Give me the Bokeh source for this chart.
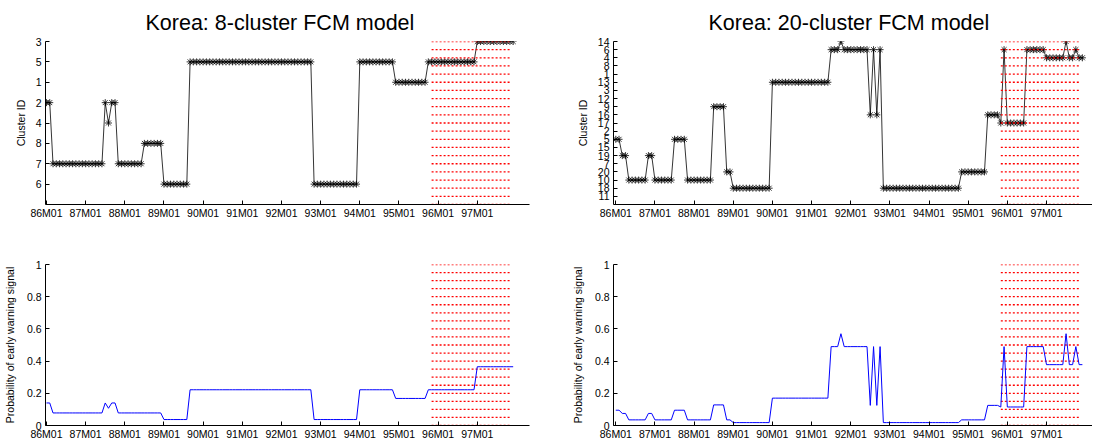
import numpy as np
from bokeh.plotting import figure
from bokeh.layouts import column, row
from bokeh.models import FixedTicker, Range1d
from bokeh.embed import file_html
from bokeh.resources import INLINE

# ---------------- data ----------------
tick_labels = ["86M01", "87M01", "88M01", "89M01", "90M01", "91M01",
               "92M01", "93M01", "94M01", "95M01", "96M01", "97M01"]
tick_months = [0, 12, 24, 36, 48, 60, 72, 84, 96, 108, 120, 132]

# cluster-ID axis order (bottom -> top)
order_8 = [6, 7, 8, 4, 2, 1, 5, 3]
order_20 = [11, 18, 10, 20, 7, 19, 15, 5, 2, 17, 16, 9, 12, 3, 13, 1, 8, 4, 6, 14]

# monthly cluster membership, 86M01 .. 97M12 (one row per year)
clusters_8 = [
    2, 2, 7, 7, 7, 7, 7, 7, 7, 7, 7, 7,
    7, 7, 7, 7, 7, 7, 2, 4, 2, 2, 7, 7,
    7, 7, 7, 7, 7, 7, 8, 8, 8, 8, 8, 8,
    6, 6, 6, 6, 6, 6, 6, 6, 5, 5, 5, 5,
    5, 5, 5, 5, 5, 5, 5, 5, 5, 5, 5, 5,
    5, 5, 5, 5, 5, 5, 5, 5, 5, 5, 5, 5,
    5, 5, 5, 5, 5, 5, 5, 5, 5, 5, 6, 6,
    6, 6, 6, 6, 6, 6, 6, 6, 6, 6, 6, 6,
    5, 5, 5, 5, 5, 5, 5, 5, 5, 5, 5, 1,
    1, 1, 1, 1, 1, 1, 1, 1, 1, 5, 5, 5,
    5, 5, 5, 5, 5, 5, 5, 5, 5, 5, 5, 5,
    3, 3, 3, 3, 3, 3, 3, 3, 3, 3, 3, 3,
]
clusters_20 = [
    5, 5, 19, 19, 10, 10, 10, 10, 10, 10, 19, 19,
    10, 10, 10, 10, 10, 10, 5, 5, 5, 5, 10, 10,
    10, 10, 10, 10, 10, 10, 9, 9, 9, 9, 20, 20,
    18, 18, 18, 18, 18, 18, 18, 18, 18, 18, 18, 18,
    13, 13, 13, 13, 13, 13, 13, 13, 13, 13, 13, 13,
    13, 13, 13, 13, 13, 13, 6, 6, 6, 14, 6, 6,
    6, 6, 6, 6, 6, 6, 16, 6, 16, 6, 18, 18,
    18, 18, 18, 18, 18, 18, 18, 18, 18, 18, 18, 18,
    18, 18, 18, 18, 18, 18, 18, 18, 18, 18, 20, 20,
    20, 20, 20, 20, 20, 20, 16, 16, 16, 16, 17, 6,
    17, 17, 17, 17, 17, 17, 6, 6, 6, 6, 6, 6,
    4, 4, 4, 4, 4, 4, 14, 4, 4, 6, 4, 4,
]

# probability of early warning signal attached to each cluster
prob_cluster_8 = {1: 0.168, 2: 0.14, 3: 0.365, 4: 0.107, 5: 0.222, 6: 0.037, 7: 0.078, 8: 0.078}
prob_cluster_20 = {4: 0.378, 5: 0.095, 6: 0.49, 9: 0.128, 10: 0.035, 13: 0.17, 14: 0.57,
                   16: 0.125, 17: 0.115, 18: 0.018, 19: 0.075, 20: 0.035}

# crisis window (red dotted band): 95M11 .. 97M11
window_start = 118
window_end = 142

# ---------------- helpers ----------------
FONT = "Liberation Sans"
months = list(range(len(clusters_8)))


def style_axes(p, yticks, ylabels, ylabel, label_standoff):
    p.outline_line_color = None
    p.xgrid.visible = False
    p.ygrid.visible = False
    xa, ya = p.xaxis[0], p.yaxis[0]
    xa.ticker = FixedTicker(ticks=tick_months)
    xa.major_label_overrides = {m: l for m, l in zip(tick_months, tick_labels)}
    ya.ticker = FixedTicker(ticks=yticks)
    ya.major_label_overrides = {t: l for t, l in zip(yticks, ylabels)}
    for ax in (xa, ya):
        ax.major_tick_in = 4
        ax.major_tick_out = 0
        ax.minor_tick_in = 0
        ax.minor_tick_out = 0
        ax.axis_line_color = "black"
        ax.major_tick_line_color = "black"
        ax.major_label_text_font = FONT
        ax.major_label_text_font_size = "10.5px"
        ax.major_label_text_color = "black"
        ax.major_label_standoff = 4
    xa.major_label_standoff = 2
    ya.axis_label = ylabel
    ya.axis_label_text_font = FONT
    ya.axis_label_text_font_size = "10.5px"
    ya.axis_label_text_font_style = "normal"
    ya.axis_label_text_color = "black"
    ya.axis_label_standoff = label_standoff


def red_window(p, levels):
    p.segment(x0=[window_start] * len(levels), x1=[window_end] * len(levels),
              y0=list(levels), y1=list(levels),
              line_color="#ff0000", line_width=1.3, line_dash="2 2")


def make_fig(width, height, xr, yr, mb):
    p = figure(width=width, height=height, x_range=Range1d(*xr), y_range=Range1d(*yr),
               output_backend="svg", toolbar_location=None,
               min_border_left=mb[0], min_border_right=mb[1],
               min_border_top=mb[2], min_border_bottom=mb[3])
    return p


TOP_H, BOT_H = 248, 194
LW, RW = 560, 532
LX = (-0.3, 148)
RX = (-0.7, 146.1)

# ---------------- top-left: 8 clusters ----------------
p1 = make_fig(LW, TOP_H, LX, (0, 8), (45, 31, 41, 44))
pos8 = [order_8.index(c) + 1 for c in clusters_8]
p1.line(months, pos8, line_color="black", line_width=0.8)
p1.scatter(months, pos8, marker="asterisk", size=7, line_color="black", line_width=0.8)
red_window(p1, np.linspace(0, 8, 21))
style_axes(p1, list(range(1, 9)), [str(c) for c in order_8], "Cluster ID", 6)
p1.title.text = "Korea: 8-cluster FCM model"

# ---------------- top-right: 20 clusters ----------------
p2 = make_fig(RW, TOP_H, RX, (0, 20), (53, 0, 41, 44))
pos20 = [order_20.index(c) + 1 for c in clusters_20]
p2.line(months, pos20, line_color="black", line_width=0.8)
p2.scatter(months, pos20, marker="asterisk", size=7, line_color="black", line_width=0.8)
red_window(p2, np.linspace(0, 20, 21))
style_axes(p2, list(range(1, 21)), [str(c) for c in order_20], "Cluster ID", 6)
p2.title.text = "Korea: 20-cluster FCM model"

for p, off in ((p1, 100), (p2, 95)):
    p.title.align = "left"
    p.title.offset = off
    p.title.text_font = FONT
    p.title.text_font_size = "21.5px"
    p.title.text_font_style = "normal"
    p.title.text_color = "black"
    p.title.standoff = 14

prob_ticks = [0, 0.2, 0.4, 0.6, 0.8, 1]
prob_labels = ["0", "0.2", "0.4", "0.6", "0.8", "1"]
plabel = "Probability of early warning signal"

# ---------------- bottom-left ----------------
p3 = make_fig(LW, BOT_H, LX, (0, 1), (45, 31, 16, 16))
red_window(p3, np.linspace(0, 1, 21))
p3.line(months, [prob_cluster_8[c] for c in clusters_8], line_color="#0000ff", line_width=1)
style_axes(p3, prob_ticks, prob_labels, plabel, 8)

# ---------------- bottom-right ----------------
p4 = make_fig(RW, BOT_H, RX, (0, 1), (53, 0, 16, 16))
red_window(p4, np.linspace(0, 1, 21))
p4.line(months, [prob_cluster_20[c] for c in clusters_20], line_color="#0000ff", line_width=1)
style_axes(p4, prob_ticks, prob_labels, plabel, 8)

layout = column(row(p1, p2), row(p3, p4))
open("out.html", "w").write(file_html(layout, INLINE))
